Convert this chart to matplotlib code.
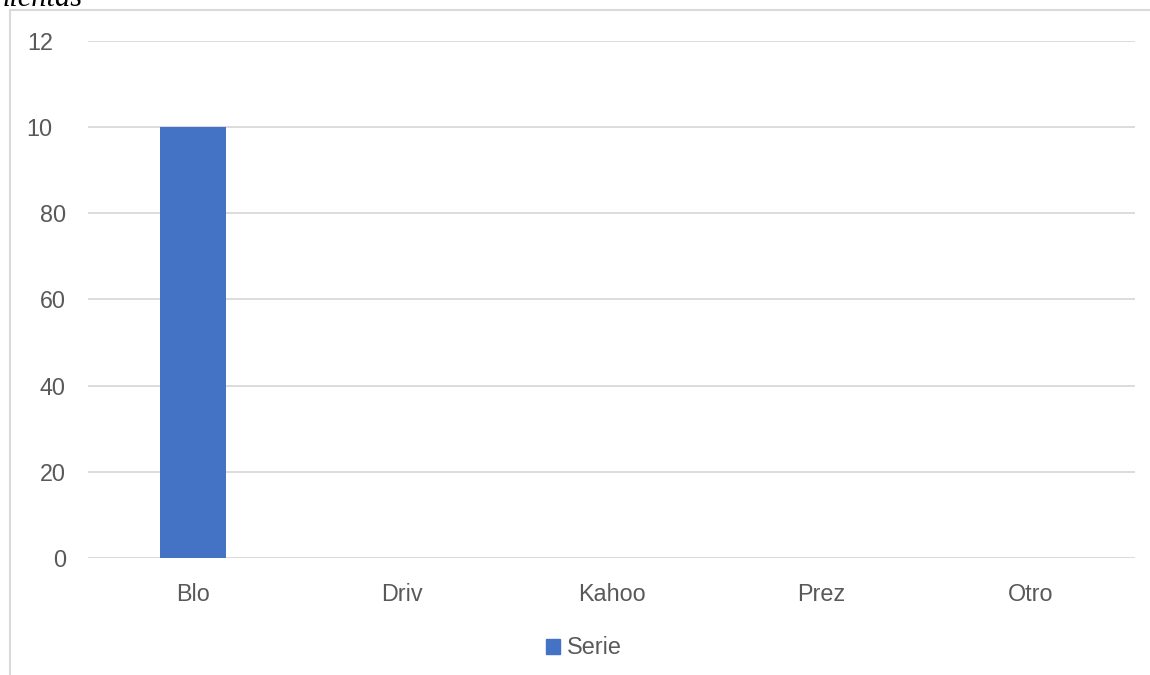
import matplotlib
matplotlib.use("Agg")
import matplotlib.pyplot as plt
from matplotlib.transforms import ScaledTranslation
from matplotlib.lines import Line2D
import numpy as np

categories = ["Blo", "Driv", "Kahoo", "Prez", "Otro"]
values = [100, 0, 0, 0, 0]
y_ticks = [0, 20, 40, 60, 80, 100, 120]
y_labels = ["0", "20", "40", "60", "80", "10", "12"]
series_name = "Serie"
title_fragment = "nientas"

plt.rcParams["font.family"] = ["Liberation Sans", "DejaVu Sans"]
text_color = "#595959"
grid_color = "#d9d9d9"
bar_color = "#4472c4"
fs = 16.8

fig = plt.figure(figsize=(11.5, 6.75), dpi=100)
ax = fig.add_axes([0.0765, 0.1733, 0.9105, 0.766])

x = np.arange(len(categories))
ax.bar(x, values, width=0.315, color=bar_color, label=series_name, zorder=3)

ax.set_xlim(-0.5, len(categories) - 0.5)
ax.set_ylim(0, 120)
ax.set_yticks(y_ticks)
ax.set_yticklabels(y_labels)
ax.set_xticks(x)
ax.set_xticklabels(categories)
for y in y_ticks:
    ax.axhline(y, color=grid_color, lw=1.3, zorder=1)

for s in ax.spines.values():
    s.set_visible(False)
ax.tick_params(axis="both", length=0, labelsize=fs, labelcolor=text_color)
ax.tick_params(axis="y", pad=16)
ax.tick_params(axis="x", pad=18)

# truncated labels (100 / 120) keep their original start position
shift = ScaledTranslation(-0.556 * fs / 72, 0, fig.dpi_scale_trans)
for lab in ax.get_yticklabels()[5:]:
    lab.set_transform(lab.get_transform() + shift)

handle = plt.Rectangle((0, 0), 1, 1, color=bar_color)
fig.legend([handle], [series_name], loc="center", bbox_to_anchor=(0.508, 0.04),
           frameon=False, fontsize=fs, labelcolor=text_color,
           handlelength=0.6, handleheight=0.6, handletextpad=0.3)

# outer chart border (left and top)
fig.add_artist(Line2D([10 / 1150, 10 / 1150], [0, 1 - 10 / 675],
                      transform=fig.transFigure, color=grid_color, lw=1.5))
fig.add_artist(Line2D([10 / 1150, 1], [1 - 10 / 675, 1 - 10 / 675],
                      transform=fig.transFigure, color=grid_color, lw=1.5))

fig.text(-0.004, 1 - 6 / 675, title_fragment, family=["Liberation Serif", "DejaVu Serif"],
         style="italic", fontsize=22, color="black", va="baseline", ha="left")

fig.savefig("out.png", dpi=100)
